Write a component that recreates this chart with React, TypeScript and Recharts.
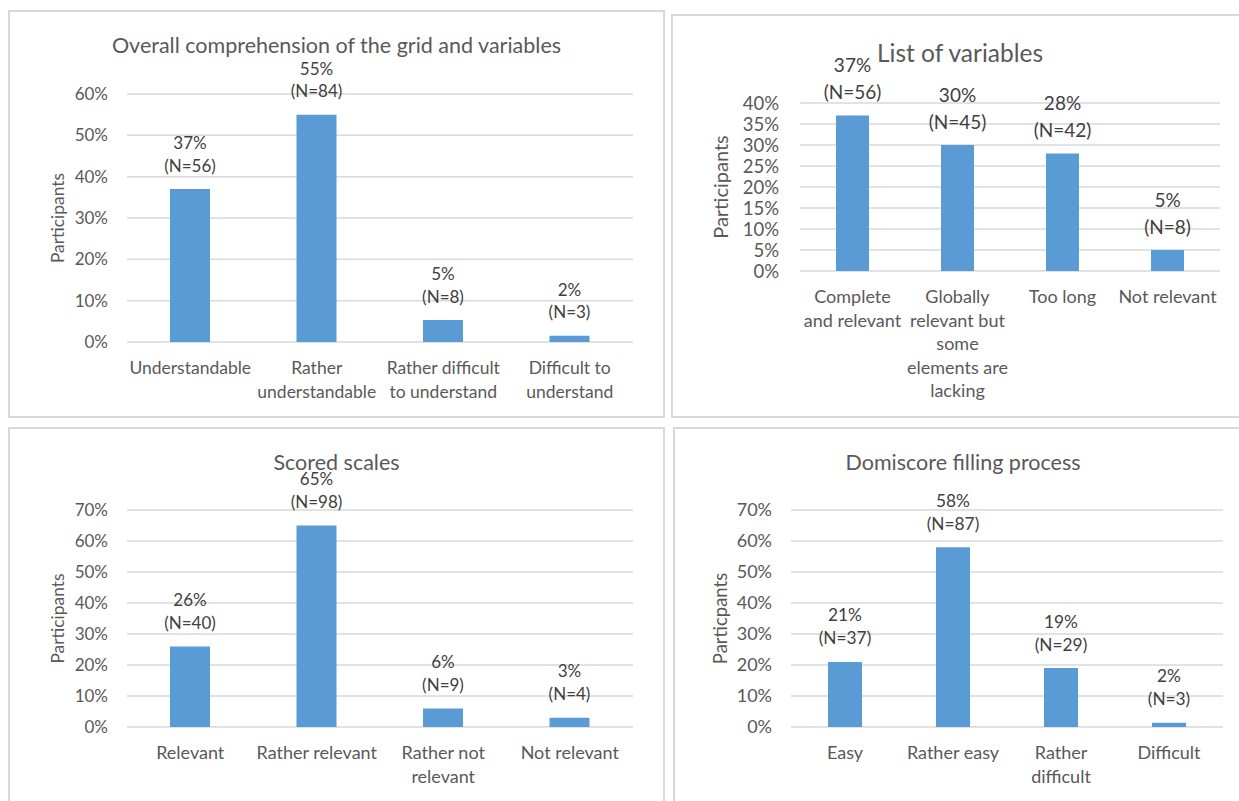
import React from "react";
import { BarChart, Bar, XAxis, YAxis, CartesianGrid } from "recharts";

// --- data ---------------------------------------------------------------
const COMPREHENSION_CATEGORIES = [
  "Understandable",
  "Rather\nunderstandable",
  "Rather difficult\nto understand",
  "Difficult to\nunderstand",
];
const COMPREHENSION_VALUES = [37, 55, 5.3, 1.5];
const COMPREHENSION_PCT = [37, 55, 5, 2];
const COMPREHENSION_N = [56, 84, 8, 3];
const COMPREHENSION_TICKS = [0, 10, 20, 30, 40, 50, 60];

const VARIABLES_CATEGORIES = [
  "Complete\nand relevant",
  "Globally\nrelevant but\nsome\nelements are\nlacking",
  "Too long",
  "Not relevant",
];
const VARIABLES_VALUES = [37, 30, 28, 5];
const VARIABLES_PCT = [37, 30, 28, 5];
const VARIABLES_N = [56, 45, 42, 8];
const VARIABLES_TICKS = [0, 5, 10, 15, 20, 25, 30, 35, 40];

const SCALES_CATEGORIES = [
  "Relevant",
  "Rather relevant",
  "Rather not\nrelevant",
  "Not relevant",
];
const SCALES_VALUES = [26, 65, 6, 3];
const SCALES_PCT = [26, 65, 6, 3];
const SCALES_N = [40, 98, 9, 4];
const SCALES_TICKS = [0, 10, 20, 30, 40, 50, 60, 70];

const FILLING_CATEGORIES = ["Easy", "Rather easy", "Rather\ndifficult", "Difficult"];
const FILLING_VALUES = [21, 58, 19, 1.4];
const FILLING_PCT = [21, 58, 19, 2];
const FILLING_N = [37, 87, 29, 3];
const FILLING_TICKS = [0, 10, 20, 30, 40, 50, 60, 70];

// --- styling ------------------------------------------------------------
const FONT = "Lato, 'Liberation Sans', sans-serif";
const BAR_COLOR = "#5b9bd5";
const GRID_COLOR = "#d9d9d9";
const AXIS_TEXT = "#595959";
const LABEL_TEXT = "#404040";

type Box = { x: number; y: number; w: number; h: number };
type Plot = { left: number; right: number; top: number; bottom: number };
type Sizes = { title: number; xTick: number; yTick: number; label: number; yLabel: number };

type PanelProps = {
  title: string;
  yLabel: string;
  categories: string[];
  values: number[];
  pct: number[];
  counts: number[];
  ticks: number[];
  box: Box;
  plot: Plot;
  titleY: number;
  yLabelX: number;
  sizes: Sizes;
  lineGap: number;
  labelGap: number;
  barSize: number;
  tickGap: number;
};

const Panel: React.FC<PanelProps> = ({
  title,
  yLabel,
  categories,
  values,
  pct,
  counts,
  ticks,
  box,
  plot,
  titleY,
  yLabelX,
  sizes,
  lineGap,
  labelGap,
  barSize,
  tickGap,
}) => {
  const data = categories.map((name, i) => ({ name, value: values[i] }));
  const xAxisHeight = box.y + box.h - plot.bottom;
  const yAxisWidth = plot.left - box.x;
  const midY = (plot.top + plot.bottom) / 2 - box.y;
  const lx = yLabelX - box.x;

  return (
    <>
      <div
        style={{
          position: "absolute",
          left: box.x,
          top: box.y,
          width: box.w,
          height: box.h,
          boxSizing: "border-box",
          border: `2px solid ${GRID_COLOR}`,
        }}
      />
      <div
        style={{
          position: "absolute",
          left: box.x,
          top: titleY,
          width: box.w,
          transform: "translateY(-50%)",
          textAlign: "center",
          fontFamily: FONT,
          fontSize: sizes.title,
          color: AXIS_TEXT,
          lineHeight: 1,
          whiteSpace: "nowrap",
        }}
      >
        {title}
      </div>
      <div style={{ position: "absolute", left: box.x, top: box.y }}>
        <BarChart
          width={box.w}
          height={box.h}
          data={data}
          margin={{
            top: plot.top - box.y,
            right: box.x + box.w - plot.right,
            bottom: 0,
            left: 0,
          }}
        >
          <CartesianGrid vertical={false} stroke={GRID_COLOR} strokeWidth={1.5} />
          <XAxis
            dataKey="name"
            axisLine={false}
            tickLine={false}
            tickSize={0}
            tickMargin={0}
            height={xAxisHeight}
            interval={0}
            tick={(props: any) => {
              const lines = String(props.payload.value).split("\n");
              return (
                <text
                  x={props.x}
                  y={props.y}
                  textAnchor="middle"
                  fontFamily={FONT}
                  fontSize={sizes.xTick}
                  fill={AXIS_TEXT}
                >
                  {lines.map((ln, i) => (
                    <tspan
                      key={i}
                      x={props.x}
                      y={props.y + 25 + i * labelGap}
                      dominantBaseline="central"
                    >
                      {ln}
                    </tspan>
                  ))}
                </text>
              );
            }}
          />
          <YAxis
            width={yAxisWidth}
            domain={[ticks[0], ticks[ticks.length - 1]]}
            ticks={ticks}
            interval={0}
            axisLine={false}
            tickLine={false}
            tickSize={0}
            tickMargin={tickGap}
            tickFormatter={(v: number) => `${v}%`}
            tick={{ fill: AXIS_TEXT, fontSize: sizes.yTick, fontFamily: FONT }}
            label={{
              content: () => (
                <text
                  x={lx}
                  y={midY}
                  transform={`rotate(-90 ${lx} ${midY})`}
                  textAnchor="middle"
                  dominantBaseline="central"
                  fontFamily={FONT}
                  fontSize={sizes.yLabel}
                  fill={AXIS_TEXT}
                >
                  {yLabel}
                </text>
              ),
            }}
          />
          <Bar
            dataKey="value"
            fill={BAR_COLOR}
            barSize={barSize}
            isAnimationActive={false}
            label={(props: any) => {
              const cx = props.x + props.width / 2;
              const top = props.y;
              return (
                <text
                  key={props.index}
                  textAnchor="middle"
                  fontFamily={FONT}
                  fontSize={sizes.label}
                  fill={LABEL_TEXT}
                >
                  <tspan x={cx} y={top - 24 - lineGap} dominantBaseline="central">
                    {`${pct[props.index]}%`}
                  </tspan>
                  <tspan x={cx} y={top - 24} dominantBaseline="central">
                    {`(N=${counts[props.index]})`}
                  </tspan>
                </text>
              );
            }}
          />
        </BarChart>
      </div>
    </>
  );
};

export default function App() {
  return (
    <div
      style={{
        position: "absolute",
        left: 0,
        top: 0,
        width: 1239,
        height: 801,
        overflow: "hidden",
        background: "#fff",
      }}
    >
      <Panel
        title="Overall comprehension of the grid and variables"
        yLabel="Participants"
        categories={COMPREHENSION_CATEGORIES}
        values={COMPREHENSION_VALUES}
        pct={COMPREHENSION_PCT}
        counts={COMPREHENSION_N}
        ticks={COMPREHENSION_TICKS}
        box={{ x: 8, y: 10, w: 657, h: 408 }}
        plot={{ left: 127, right: 633, top: 94, bottom: 342 }}
        titleY={46}
        yLabelX={57}
        sizes={{ title: 21.5, xTick: 17.5, yTick: 17, label: 17, yLabel: 17.4 }}
        lineGap={22.5}
        labelGap={24}
        barSize={40}
        tickGap={19}
      />
      <Panel
        title="List of variables"
        yLabel="Participants"
        categories={VARIABLES_CATEGORIES}
        values={VARIABLES_VALUES}
        pct={VARIABLES_PCT}
        counts={VARIABLES_N}
        ticks={VARIABLES_TICKS}
        box={{ x: 671, y: 14, w: 578, h: 404 }}
        plot={{ left: 800, right: 1220, top: 103, bottom: 271 }}
        titleY={53}
        yLabelX={720}
        sizes={{ title: 24.5, xTick: 18, yTick: 18.5, label: 19, yLabel: 20 }}
        lineGap={27}
        labelGap={23.5}
        barSize={33}
        tickGap={21}
      />
      <Panel
        title="Scored scales"
        yLabel="Participants"
        categories={SCALES_CATEGORIES}
        values={SCALES_VALUES}
        pct={SCALES_PCT}
        counts={SCALES_N}
        ticks={SCALES_TICKS}
        box={{ x: 8, y: 427, w: 657, h: 390 }}
        plot={{ left: 127, right: 633, top: 510, bottom: 727 }}
        titleY={463}
        yLabelX={57}
        sizes={{ title: 21.5, xTick: 18, yTick: 17, label: 17, yLabel: 17.4 }}
        lineGap={23}
        labelGap={24}
        barSize={40}
        tickGap={19}
      />
      <Panel
        title="Domiscore filling process"
        yLabel="Particpants"
        categories={FILLING_CATEGORIES}
        values={FILLING_VALUES}
        pct={FILLING_PCT}
        counts={FILLING_N}
        ticks={FILLING_TICKS}
        box={{ x: 673, y: 427, w: 580, h: 390 }}
        plot={{ left: 791, right: 1223, top: 510, bottom: 727 }}
        titleY={463}
        yLabelX={720}
        sizes={{ title: 21.5, xTick: 18, yTick: 18, label: 17.3, yLabel: 18.5 }}
        lineGap={23}
        labelGap={24}
        barSize={34}
        tickGap={19}
      />
    </div>
  );
}
